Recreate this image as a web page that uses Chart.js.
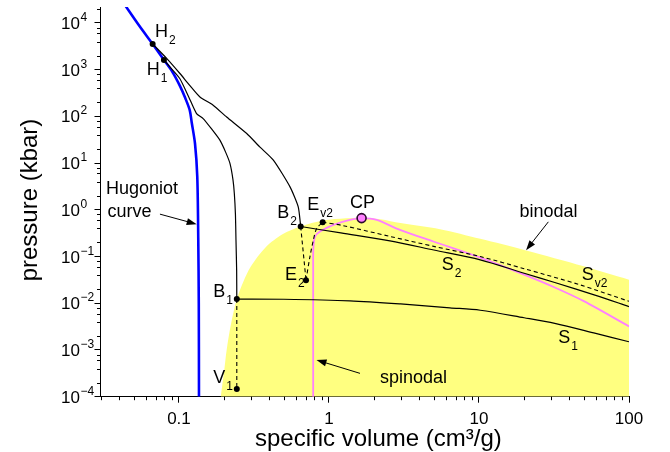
<!DOCTYPE html>
<html>
<head>
<meta charset="utf-8">
<script src="https://cdn.jsdelivr.net/npm/chart.js@4.4.1/dist/chart.umd.min.js"></script>
<style>
  html, body { margin: 0; padding: 0; background: #fff; }
</style>
</head>
<body>
<canvas id="phase" width="670" height="452"></canvas>
<script>
// specific volume (cm3/g) and pressure (kbar)
var hugoniotV = [0.043, 0.0547, 0.0668, 0.0794, 0.09, 0.1015, 0.11, 0.118, 0.1216, 0.128, 0.1325, 0.1345, 0.1356, 0.136];
var hugoniotP = [2.6e4, 8500, 3550, 1620, 920, 450, 250, 136, 75, 26, 5.1, 0.25, 0.01, 1e-4];

var upperV = [0.0668, 0.0828, 0.1015, 0.118, 0.138, 0.169, 0.208, 0.283, 0.347, 0.426, 0.55, 0.624, 0.648];
var upperP = [3550, 1750, 830, 462, 261, 174, 97, 43, 22, 11.6, 3.1, 1.16, 0.44];

var lowerV = [0.0794, 0.09, 0.1015, 0.116, 0.131, 0.145, 0.165, 0.1875, 0.205, 0.219, 0.229, 0.234, 0.238, 0.24, 0.2425, 0.243];
var lowerP = [1620, 1015, 640, 265, 115, 90, 54, 31, 17, 9.8, 4.5, 2.24, 0.8, 0.225, 0.05, 0.0123];

var s1V = [0.243, 0.5, 1.38, 3, 6.4, 10.2, 20, 32, 60, 100];
var s1P = [0.0123, 0.0122, 0.0113, 0.0097, 0.008, 0.0071, 0.0049, 0.0037, 0.00226, 0.0015];

var s2V = [0.648, 1.2, 2.55, 5, 10.2, 20, 32, 60, 100];
var s2P = [0.44, 0.32, 0.217, 0.138, 0.085, 0.044, 0.0279, 0.0148, 0.0085];

var sv2V = [0.908, 1.24, 2.55, 5, 10.2, 20, 47, 100];
var sv2P = [0.545, 0.46, 0.27, 0.165, 0.1, 0.055, 0.0249, 0.011];

var b1v1V = [0.243, 0.243];
var b1v1P = [0.0123, 1.46e-4];
var b2e2V = [0.648, 0.703];
var b2e2P = [0.44, 0.0313];
var e2ev2V = [0.703, 0.747, 0.787, 0.828, 0.908];
var e2ev2P = [0.0313, 0.1, 0.225, 0.4, 0.545];

var spinodalV = [0.785, 0.785, 0.787, 0.807, 0.871, 1.07, 1.38, 1.65, 2.08, 2.97, 4.96, 10.2, 20, 32, 50, 100];
var spinodalP = [1e-4, 0.05, 0.15, 0.268, 0.343, 0.478, 0.61, 0.665, 0.61, 0.373, 0.21, 0.095, 0.041, 0.0218, 0.0111, 0.0032];

var binodalV = [0.19, 0.2, 0.208, 0.222, 0.243, 0.27, 0.3, 0.38, 0.49, 0.648, 0.91, 1.3, 1.65, 2.2, 3, 5.5, 10.2, 20.3, 50, 100];
var binodalP = [1e-4, 3.5e-4, 1e-3, 3.5e-3, 0.0123, 0.03, 0.06, 0.16, 0.3, 0.44, 0.59, 0.66, 0.68, 0.63, 0.52, 0.386, 0.24, 0.137, 0.062, 0.032];

// H2, H1, B1, B2, E2, Ev2, V1
var pointV = [0.0668, 0.0794, 0.243, 0.648, 0.703, 0.908, 0.243];
var pointP = [3550, 1620, 0.0123, 0.44, 0.0313, 0.545, 1.46e-4];
var cpV = [1.65];
var cpP = [0.665];

var xTicks = [0.1, 1, 10, 100];
var yTicks = [1e-4, 1e-3, 1e-2, 1e-1, 1, 10, 100, 1000, 1e4];

// text labels, anchored in data units
var labels = [
  { t: 'H', s: '2', v: 0.0692, p: 5000 },
  { t: 'H', s: '1', v: 0.061, p: 760 },
  { t: 'B', s: '1', v: 0.169, p: 0.0134 },
  { t: 'V', s: '1', v: 0.169, p: 1.94e-4 },
  { t: 'B', s: '2', v: 0.452, p: 0.655 },
  { t: 'E', s: 'v2', v: 0.716, p: 0.985 },
  { t: 'E', s: '2', v: 0.509, p: 0.0313 },
  { t: 'CP', s: '', v: 1.38, p: 1.07 },
  { t: 'S', s: '2', v: 5.64, p: 0.0513 },
  { t: 'S', s: 'v2', v: 48.4, p: 0.0313 },
  { t: 'S', s: '1', v: 33.8, p: 0.00139 },
  { t: 'Hugoniot', s: '', v: 0.0326, p: 2.17 },
  { t: 'curve', s: '', v: 0.0334, p: 0.708 },
  { t: 'binodal', s: '', v: 18.6, p: 0.708 },
  { t: 'spinodal', s: '', v: 2.19, p: 1.96e-4 }
];
var arrows = [
  { from: [0.0747, 0.809], to: [0.1313, 0.494] },
  { from: [29, 0.554], to: [20.6, 0.137] },
  { from: [1.61, 3.16e-4], to: [0.826, 6.1e-4] }
];

var FONT = "'Liberation Sans', Arial, sans-serif";

function pts(xs, ys) {
  return xs.map(function (x, i) { return { x: x, y: ys[i] }; });
}

function curve(data, color, width, dash, tension) {
  return {
    data: data, showLine: true, borderColor: color, borderWidth: width,
    borderDash: dash || [], pointRadius: 0, fill: false, tension: tension || 0
  };
}

var extras = {
  id: 'extras',
  afterDraw: function (chart) {
    var c = chart.ctx, xs = chart.scales.x, ys = chart.scales.y;
    var a = chart.chartArea;
    c.save();
    c.strokeStyle = '#000';
    c.fillStyle = '#000';
    c.lineWidth = 1;

    // minor ticks
    c.beginPath();
    for (var d = 0.01; d < 200; d *= 10) {
      for (var m = 2; m <= 9; m++) {
        var v = d * m;
        if (v < 0.03 - 1e-9 || v > 100) continue;
        var px = Math.round(xs.getPixelForValue(v)) + 0.5;
        c.moveTo(px, a.bottom);
        c.lineTo(px, a.bottom + 3.5);
      }
    }
    for (var e = 1e-4; e < 1e5; e *= 10) {
      [2, 4, 6, 8].forEach(function (m) {
        var v = e * m;
        if (v > ys.max) return;
        var py = Math.round(ys.getPixelForValue(v)) + 0.5;
        c.moveTo(a.left, py);
        c.lineTo(a.left - 3.5, py);
      });
    }
    c.stroke();

    // y tick labels: 10 with a raised exponent
    yTicks.forEach(function (t) {
      var py = ys.getPixelForValue(t);
      var ex = String(Math.round(Math.log10(t))).replace('-', '\u2212');
      c.font = '17px ' + FONT;
      c.textAlign = 'left';
      c.textBaseline = 'alphabetic';
      c.fillText('10', 61, py + 6);
      var w = c.measureText('10').width;
      c.font = '12px ' + FONT;
      c.fillText(ex, 61 + w + 0.5, py - 2);
    });

    // arrows
    arrows.forEach(function (ar) {
      var x0 = xs.getPixelForValue(ar.from[0]), y0 = ys.getPixelForValue(ar.from[1]);
      var x1 = xs.getPixelForValue(ar.to[0]), y1 = ys.getPixelForValue(ar.to[1]);
      var ang = Math.atan2(y1 - y0, x1 - x0);
      c.beginPath();
      c.moveTo(x0, y0);
      c.lineTo(x1 - 6 * Math.cos(ang), y1 - 6 * Math.sin(ang));
      c.stroke();
      c.beginPath();
      c.moveTo(x1, y1);
      c.lineTo(x1 - 10 * Math.cos(ang) + 3.5 * Math.sin(ang), y1 - 10 * Math.sin(ang) - 3.5 * Math.cos(ang));
      c.lineTo(x1 - 10 * Math.cos(ang) - 3.5 * Math.sin(ang), y1 - 10 * Math.sin(ang) + 3.5 * Math.cos(ang));
      c.closePath();
      c.fill();
    });

    // labels with subscripts
    c.textBaseline = 'alphabetic';
    c.textAlign = 'left';
    labels.forEach(function (l) {
      var x = xs.getPixelForValue(l.v), y = ys.getPixelForValue(l.p);
      c.font = '18px ' + FONT;
      c.fillText(l.t, x, y);
      if (l.s) {
        var w = c.measureText(l.t).width;
        c.font = '12px ' + FONT;
        c.fillText(l.s, x + w + 1, y + 7);
      }
    });

    // axis titles
    c.font = '24px ' + FONT;
    c.fillText('specific volume (cm\u00b3/g)', 255, 446);
    c.translate(37, 200);
    c.rotate(-Math.PI / 2);
    c.textAlign = 'center';
    c.fillText('pressure (kbar)', 0, 0);
    c.restore();
  }
};

var ctx = document.getElementById('phase');

new Chart(ctx, {
  type: 'scatter',
  data: {
    datasets: [
      {
        data: pts(pointV, pointP), pointRadius: 3, pointBackgroundColor: '#000',
        pointBorderColor: '#000', pointBorderWidth: 0, showLine: false
      },
      {
        data: pts(cpV, cpP), pointRadius: 4.5, pointBackgroundColor: '#ff80ff',
        pointBorderColor: '#2a0a2a', pointBorderWidth: 1.6, showLine: false
      },
      curve(pts(b1v1V, b1v1P), '#000', 1.1, [4, 3]),
      curve(pts(b2e2V, b2e2P), '#000', 1.1, [4, 3]),
      curve(pts(e2ev2V, e2ev2P), '#000', 1.1, [4, 3], 0.3),
      curve(pts(sv2V, sv2P), '#000', 1.1, [4, 3], 0.3),
      curve(pts(upperV, upperP), '#000', 1.2, null, 0.2),
      curve(pts(lowerV, lowerP), '#000', 1.2, null, 0.2),
      curve(pts(s1V, s1P), '#000', 1.2, null, 0.3),
      curve(pts(s2V, s2P), '#000', 1.2, null, 0.3),
      curve(pts(spinodalV, spinodalP), '#ff80ff', 1.8, null, 0.3),
      curve(pts(hugoniotV, hugoniotP), '#0000ff', 2.6, null, 0.3),
      {
        data: pts(binodalV, binodalP), showLine: true, borderWidth: 0,
        borderColor: 'rgba(0,0,0,0)', backgroundColor: '#ffff80',
        pointRadius: 0, fill: 'start', tension: 0.3
      }
    ]
  },
  options: {
    responsive: false,
    animation: false,
    devicePixelRatio: 1,
    layout: { padding: { left: 0, right: 41, top: 7, bottom: 0 } },
    plugins: { legend: { display: false }, tooltip: { enabled: false } },
    scales: {
      x: {
        type: 'logarithmic', min: 0.03, max: 100,
        border: { color: '#000', width: 1 },
        grid: { drawOnChartArea: false, color: '#000', tickLength: 6, lineWidth: 1 },
        ticks: {
          color: '#000', font: { family: FONT, size: 17 }, padding: 6,
          maxRotation: 0, autoSkip: false,
          callback: function (v) { return String(v); }
        },
        afterBuildTicks: function (s) { s.ticks = xTicks.map(function (v) { return { value: v }; }); },
        afterFit: function (s) { s.height = 55.3; s.paddingLeft = 0; s.paddingRight = 0; }
      },
      y: {
        type: 'logarithmic', min: 1e-4, max: 2.2e4,
        border: { color: '#000', width: 1 },
        grid: { drawOnChartArea: false, color: '#000', tickLength: 6, lineWidth: 1 },
        ticks: { display: false, autoSkip: false },
        afterBuildTicks: function (s) { s.ticks = yTicks.map(function (v) { return { value: v }; }); },
        afterFit: function (s) { s.width = 100.5; s.paddingTop = 0; s.paddingBottom = 0; }
      }
    }
  },
  plugins: [extras]
});
</script>
</body>
</html>
